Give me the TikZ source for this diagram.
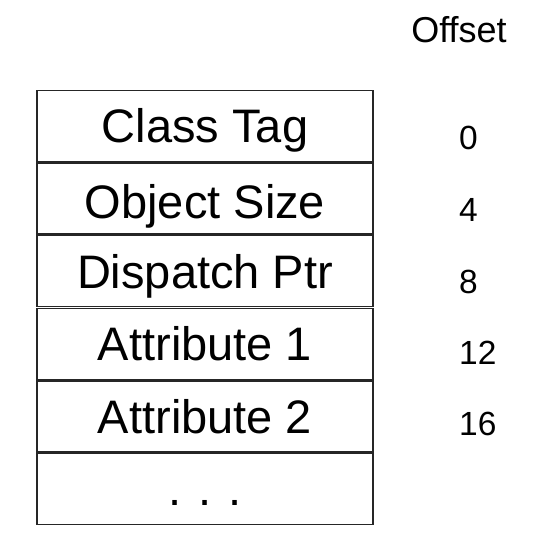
\documentclass[tikz,border=0pt]{standalone}
\usepackage{fontspec}
\setmainfont{Liberation Sans}
\begin{document}
\begin{tikzpicture}[x=1pt,y=-1pt,
  field/.style={draw=black!85, line width=1.3pt, rectangle, inner sep=0pt,
    minimum width=336pt, minimum height=71pt,
    font=\fontsize{47}{56}\selectfont, text height=33.6pt, text depth=0pt},
  offset/.style={anchor=west, inner sep=0pt,
    font=\fontsize{33.5}{40}\selectfont, text height=24pt, text depth=0pt},
  heading/.style={inner sep=0pt, font=\fontsize{36}{43}\selectfont,
    text height=25.8pt, text depth=0pt}]
  \useasboundingbox (0,0) rectangle (536,547);
  % object layout, one field per row
  \node[field] (r1) at (205,126) {Class Tag};
  \node[field, text height=40pt] (r2) at (205,198.6) {Object Size};
  \node[field] (r3) at (205,271.2) {Dispatch Ptr};
  \node[field] (r4) at (205,343.8) {Attribute 1};
  \node[field] (r5) at (205,416.4) {Attribute 2};
  \node[field] (r6) at (205,489) {};
  \node[anchor=base, inner sep=0pt, font=\fontsize{47}{56}\selectfont] (dots) at (205,505.5) {. . .};
  % byte offsets of the fields
  \node[heading] (hd) at (459,29.5) {Offset};
  \node[offset] (o1) at (459,137.5) {0};
  \node[offset] (o2) at (459,209.5) {4};
  \node[offset] (o3) at (459,281) {8};
  \node[offset] (o4) at (459,352) {12};
  \node[offset] (o5) at (459,423.5) {16};
\end{tikzpicture}
\end{document}
